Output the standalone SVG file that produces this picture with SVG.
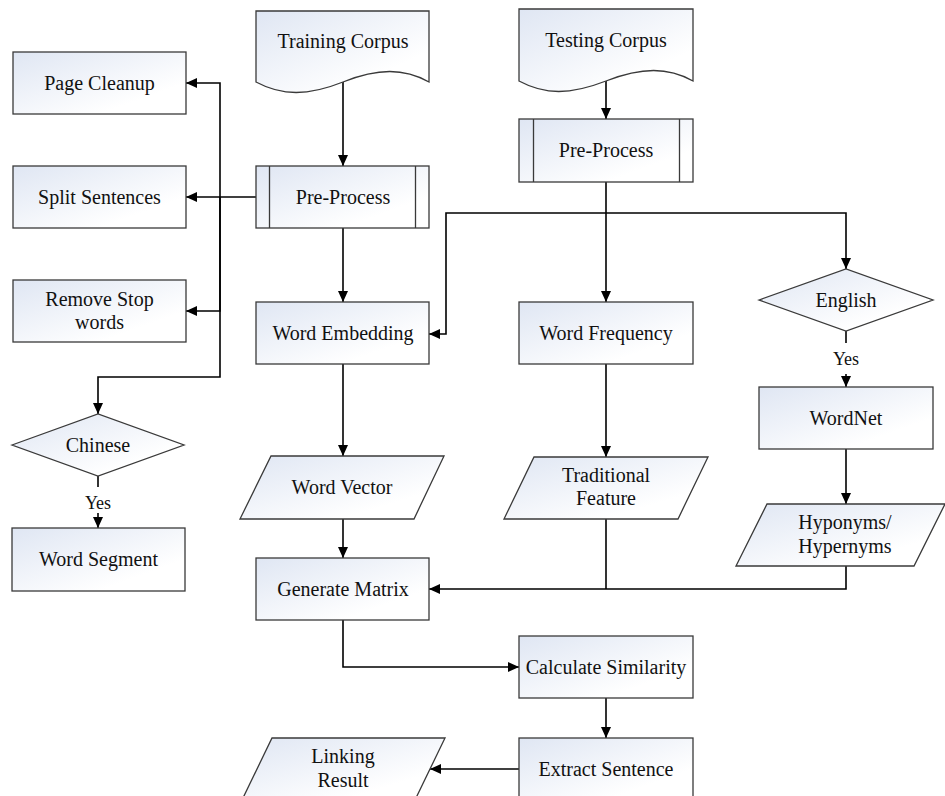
<svg xmlns="http://www.w3.org/2000/svg" width="945" height="796" viewBox="0 0 945 796">
<style>
.n{fill:url(#g);stroke:#3a3a3a;stroke-width:1.3}
.t{font-family:"Liberation Serif","Times New Roman",serif;font-size:20px;fill:#111;text-anchor:middle}
.y{font-size:18px}
.c{fill:none;stroke:#000;stroke-width:1.6}
.a{marker-end:url(#arr)}
</style>
<defs>
<linearGradient id="g" x1="0" y1="0" x2="1" y2="1">
<stop offset="0" stop-color="#dfe6f3"/>
<stop offset="0.75" stop-color="#ffffff"/>
</linearGradient>
<marker id="arr" markerUnits="userSpaceOnUse" markerWidth="11" markerHeight="10" viewBox="0 0 11 10" refX="11" refY="5" orient="auto">
<path d="M0,0 L11,5 L0,10 Z" fill="#000"/>
</marker>
</defs>
<rect width="945" height="796" fill="#fff"/>
<g id="connectors">
<path class="c a" d="M343,82 V166"/>
<path class="c a" d="M256,197 H186"/>
<path class="c a" d="M220,197 V83 H186"/>
<path class="c a" d="M220,197 V311 H186"/>
<path class="c a" d="M220,197 V377 H98 V414"/>
<path class="c a" d="M343,228 V302"/>
<path class="c a" d="M606,81 V119"/>
<path class="c a" d="M606,182 V302"/>
<path class="c a" d="M606,213 H446 V334 H429"/>
<path class="c a" d="M606,213 H846 V269"/>
<path class="c" d="M846,331 V343"/>
<path class="c a" d="M846,374 V387"/>
<path class="c a" d="M846,449 V504"/>
<path class="c" d="M98,476 V487"/>
<path class="c a" d="M98,513 V528"/>
<path class="c a" d="M343,364 V456"/>
<path class="c a" d="M606,364 V457"/>
<path class="c a" d="M343,519 V558"/>
<path class="c a" d="M846,566 V589 H429"/>
<path class="c" d="M606,519 V589"/>
<path class="c a" d="M343,620 V667 H519"/>
<path class="c a" d="M606,698 V738"/>
<path class="c a" d="M519,769 H430"/>
<text class="t y" x="98" y="509">Yes</text>
<text class="t y" x="846" y="365">Yes</text>
</g>
<g id="page-cleanup"><rect class="n" x="13" y="52" width="173" height="62"/><text class="t" x="99.5" y="90">Page Cleanup</text></g>
<g id="split-sentences"><rect class="n" x="13" y="166" width="173" height="62"/><text class="t" x="99.5" y="204">Split Sentences</text></g>
<g id="remove-stop-words"><rect class="n" x="13" y="280" width="173" height="62"/><text class="t" x="99.5" y="306">Remove Stop</text><text class="t" x="99.5" y="329">words</text></g>
<g id="chinese"><polygon class="n" points="12,445 98,414 184,445 98,476"/><text class="t" x="98" y="452">Chinese</text></g>
<g id="word-segment"><rect class="n" x="12" y="528" width="173" height="63"/><text class="t" x="98.5" y="566">Word Segment</text></g>
<g id="training-corpus"><path class="n" d="M256,11 H429 V82 C404,68 378,68 343,82 C308,96 282,96 256,82 Z"/><text class="t" x="343" y="48">Training Corpus</text></g>
<g id="pre-process-train"><rect class="n" x="256" y="166" width="173" height="62"/><path d="M269.5,166 V228 M415.5,166 V228" stroke="#3a3a3a" stroke-width="1.3"/><text class="t" x="343" y="204">Pre-Process</text></g>
<g id="word-embedding"><rect class="n" x="256" y="302" width="173" height="62"/><text class="t" x="343" y="340">Word Embedding</text></g>
<g id="word-vector"><polygon class="n" points="271,456 444,456 414,519 240,519"/><text class="t" x="342" y="494">Word Vector</text></g>
<g id="generate-matrix"><rect class="n" x="256" y="558" width="173" height="62"/><text class="t" x="343" y="596">Generate Matrix</text></g>
<g id="testing-corpus"><path class="n" d="M519,9 H693 V81 C668,67 642,67 606,81 C570,95 545,95 519,81 Z"/><text class="t" x="606" y="47">Testing Corpus</text></g>
<g id="pre-process-test"><rect class="n" x="519" y="119" width="174" height="63"/><path d="M533.5,119 V182 M679.5,119 V182" stroke="#3a3a3a" stroke-width="1.3"/><text class="t" x="606" y="157">Pre-Process</text></g>
<g id="word-frequency"><rect class="n" x="519" y="302" width="174" height="62"/><text class="t" x="606" y="340">Word Frequency</text></g>
<g id="traditional-feature"><polygon class="n" points="534,457 708,457 678,519 504,519"/><text class="t" x="606" y="482">Traditional</text><text class="t" x="606" y="505">Feature</text></g>
<g id="english"><polygon class="n" points="759,300 846,269 933,300 846,331"/><text class="t" x="846" y="307">English</text></g>
<g id="wordnet"><rect class="n" x="759" y="387" width="174" height="62"/><text class="t" x="846" y="425">WordNet</text></g>
<g id="hyponyms"><polygon class="n" points="767,504 945,504 914,566 736,566"/><text class="t" x="845" y="529">Hyponyms/</text><text class="t" x="845" y="553">Hypernyms</text></g>
<g id="calculate-similarity"><rect class="n" x="519" y="636" width="174" height="62"/><text class="t" x="606" y="674">Calculate Similarity</text></g>
<g id="extract-sentence"><rect class="n" x="519" y="738" width="174" height="62"/><text class="t" x="606" y="776">Extract Sentence</text></g>
<g id="linking-result"><polygon class="n" points="272,738 445,738 415,800 242,800"/><text class="t" x="343" y="763">Linking</text><text class="t" x="343" y="787">Result</text></g>
</svg>
